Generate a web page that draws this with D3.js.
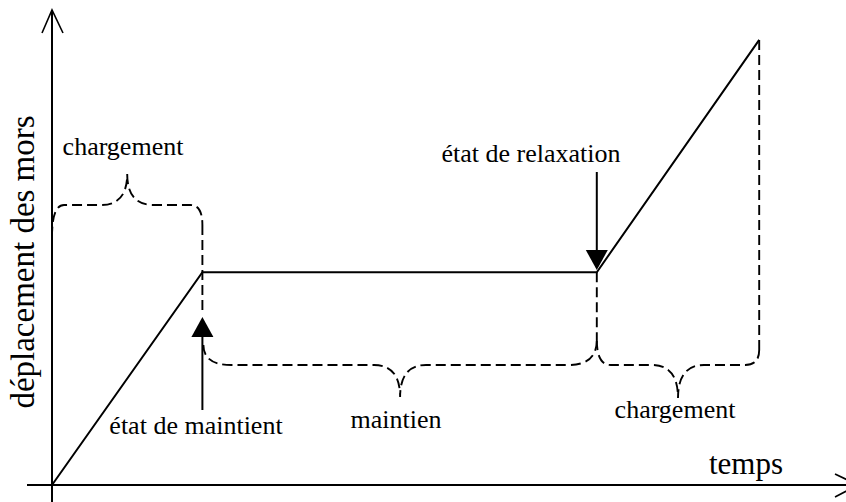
<!DOCTYPE html>
<html>
<head>
<meta charset="utf-8">
<script src="https://cdn.jsdelivr.net/npm/d3@7"></script>
<style>
  body { margin: 0; background: #fff; }
  text { font-family: "Liberation Serif", "Times New Roman", serif; fill: #000; }
</style>
</head>
<body>
<div id="chart"></div>
<script>
// phases of the test: time (arbitrary units) and jaw displacement
var times = [0, 18.8, 68.1, 88.4];
var displacement = [0, 44.8, 44.8, 93.7];
var phaseLabels = ["chargement", "maintien", "chargement"];
var stateLabels = ["état de maintient", "état de relaxation"];
var axisLabels = ["temps", "déplacement des mors"];

var width = 846, height = 502;

var x = d3.scaleLinear().domain([0, 100]).range([52, 852]);
var y = d3.scaleLinear().domain([0, 100]).range([485, 10]);

var svg = d3.select("#chart")
    .append("svg")
    .attr("width", width)
    .attr("height", height);

var data = times.map(function(t, i) { return {t: t, v: displacement[i]}; });

// axes
svg.append("line")
    .attr("x1", 27).attr("x2", 858)
    .attr("y1", y(0)).attr("y2", y(0))
    .style("stroke", "#000").style("stroke-width", 2);

svg.append("line")
    .attr("x1", x(0)).attr("x2", x(0))
    .attr("y1", height).attr("y2", y(100))
    .style("stroke", "#000").style("stroke-width", 2);

// open arrow heads
svg.append("path")
    .attr("d", "M" + (x(0) - 10) + "," + (y(100) + 23) + "L" + x(0) + "," + y(100) + "L" + (x(0) + 11) + "," + (y(100) + 23))
    .style("fill", "none").style("stroke", "#000").style("stroke-width", 1.6);

svg.append("path")
    .attr("d", "M835," + (y(0) - 11) + "L858," + y(0) + "L835," + (y(0) + 12))
    .style("fill", "none").style("stroke", "#000").style("stroke-width", 1.6);

// the curve
var valueline = d3.line()
    .x(function(d) { return x(d.t); })
    .y(function(d) { return y(d.v); });

svg.append("path")
    .attr("class", "line")
    .attr("d", valueline(data))
    .style("fill", "none")
    .style("stroke", "#000")
    .style("stroke-width", 2);

// dashed guides and braces
function dashed(d) {
    svg.append("path")
        .attr("d", d)
        .style("fill", "none")
        .style("stroke", "#000")
        .style("stroke-width", 1.9)
        .style("stroke-dasharray", "10,5");
}

// brace between xa and xb; ends at ya/yb, straight part at yl, tip at yt
function brace(xa, xb, ya, yb, yl, yt, r) {
    var xm = (xa + xb) / 2;
    return "M" + xa + "," + ya +
        "Q" + xa + "," + yl + " " + (xa + r) + "," + yl +
        "L" + (xm - 26) + "," + yl +
        "Q" + xm + "," + yl + " " + xm + "," + yt +
        "Q" + xm + "," + yl + " " + (xm + 26) + "," + yl +
        "L" + (xb - r) + "," + yl +
        "Q" + xb + "," + yl + " " + xb + "," + yb;
}

var x1 = x(times[1]), x2 = x(times[2]), x3 = x(times[3]);

dashed(brace(x(0), x1, 237, 225, 205, 174, 12));
dashed("M" + x1 + ",225L" + x1 + ",313");

dashed(brace(x1 + 1, x2, 345, 340, 365, 397, 28));
dashed("M" + x2 + "," + y(displacement[2]) + "L" + x2 + ",340");

dashed(brace(x2, x3, 340, 350, 365, 398, 14));
dashed("M" + x3 + "," + y(displacement[3]) + "L" + x3 + ",350");

// state arrows
function arrow(xa, yFrom, yTip) {
    var dir = yTip > yFrom ? 1 : -1;
    svg.append("line")
        .attr("x1", xa).attr("x2", xa)
        .attr("y1", yFrom).attr("y2", yTip - dir * 18)
        .style("stroke", "#000").style("stroke-width", 2);
    svg.append("path")
        .attr("d", "M" + (xa - 11) + "," + (yTip - dir * 20) + "L" + xa + "," + yTip + "L" + (xa + 11) + "," + (yTip - dir * 20) + "Z")
        .style("fill", "#000");
}

arrow(x1, 410, 317);
arrow(x2, 172, 270);

// labels
function label(txt, tx, ty, size) {
    svg.append("text")
        .attr("x", tx).attr("y", ty)
        .attr("text-anchor", "middle")
        .style("font-size", size + "px")
        .text(txt);
}

label(phaseLabels[0], 123, 155, 26);
label(phaseLabels[1], 396, 428, 26);
label(phaseLabels[2], 675, 418, 26);
label(stateLabels[0], 196, 434, 26);
label(stateLabels[1], 531, 162, 26);
label(axisLabels[0], 746, 474, 31);

svg.append("text")
    .attr("transform", "translate(34,262) rotate(-90)")
    .attr("text-anchor", "middle")
    .style("font-size", "33px")
    .text(axisLabels[1]);
</script>
</body>
</html>
